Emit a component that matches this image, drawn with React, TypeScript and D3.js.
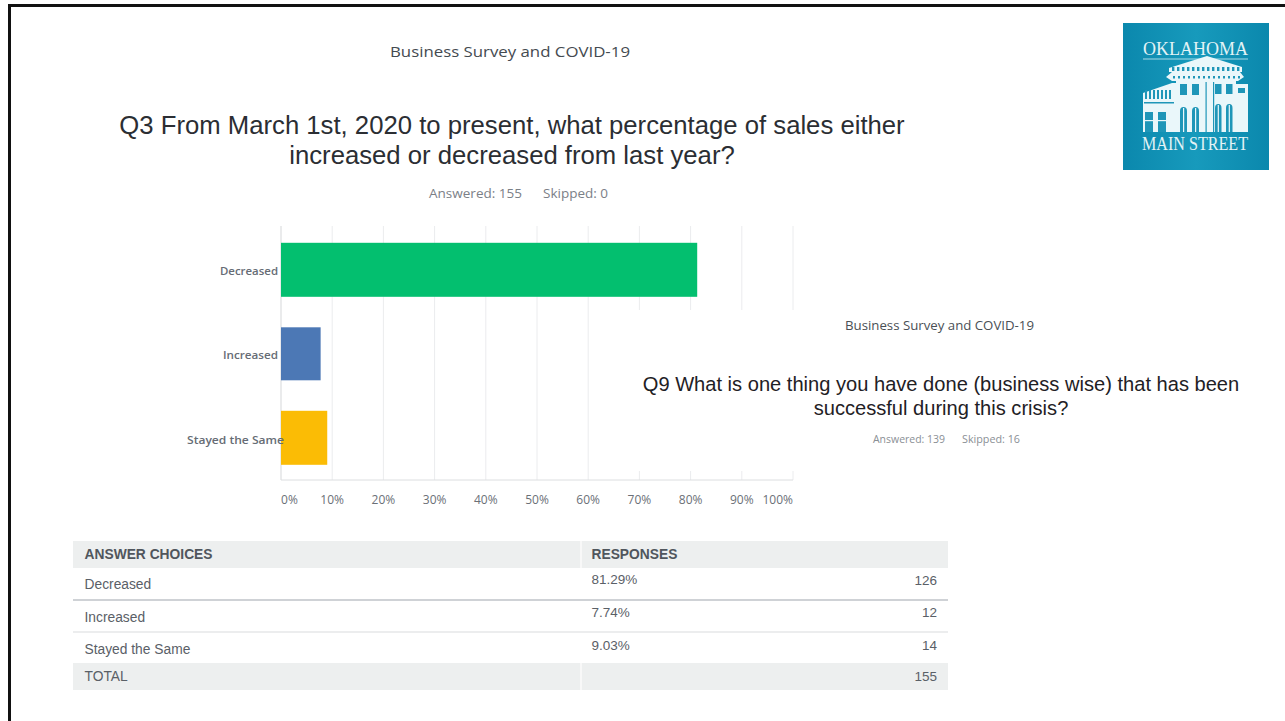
import React from "react";
import * as d3 from "d3";

const categories = ["Decreased", "Increased", "Stayed the Same"];
const percents = [81.29, 7.74, 9.03];
const counts = [126, 12, 14];
const barColors = ["#03bf6f", "#4c78b5", "#fbbc05"];
const xTicks = [0, 10, 20, 30, 40, 50, 60, 70, 80, 90, 100];
const totalResponses = 155;
const bandCentres = [269.8, 353.8, 437.8];
const barHeights = [54, 53, 54];
const labelBaselines = [274.5, 359, 444];
const labelEnds = [278, 278, 284];
const labelWidths = [58, 55, 97];
const rowTextY = [589, 622, 654];
const rowValueY = [584, 617, 650];

const sansUi = "'Open Sans', 'Noto Sans', sans-serif";
const sansTitle = "'Liberation Sans', Arial, sans-serif";
const serif = "'Liberation Serif', serif";

const x = d3.scaleLinear().domain([0, 100]).range([281, 793]);

// Stylised drawing of the Oklahoma Main Street building badge.
function Logo() {
  const teal = "#1f96b8";
  const leftBays = [1180, 1192];
  const rightBays = [1215, 1226];
  const wingBays = [1145, 1158];
  const cornice = d3.range(1172, 1242, 5);
  const wingColumns = d3.range(1145, 1172, 4);
  return (
    <g>
      <defs>
        <linearGradient id="badgeFill" x1="0" x2="1" y1="0" y2="0">
          <stop offset="0" stopColor="#0b88ad" />
          <stop offset="0.5" stopColor="#179abc" />
          <stop offset="1" stopColor="#0b88ad" />
        </linearGradient>
      </defs>
      <rect x={1123} y={23} width={146} height={147} fill="url(#badgeFill)" />
      <text x={1143} y={55} fontFamily={serif} fontSize={19} fill="#e3f3f6" textLength={105} lengthAdjust="spacingAndGlyphs">OKLAHOMA</text>
      <line x1={1143} x2={1248} y1={59} y2={59} stroke="#a9dbe7" strokeWidth={1} />
      <g fill="#eaf7fa">
        <polygon points="1169,68 1207,56 1242,67 1242,72 1169,72" />
        <polygon points="1166,77 1172,72 1240,72 1244,77 1238,81 1172,81" />
        <rect x={1176} y={81} width={60} height={51} />
        <rect x={1236} y={84} width={12} height={48} />
        <polygon points="1143,93 1172,83 1176,83 1176,132 1143,132" />
      </g>
      <g fill={teal}>
        {cornice.map((c) => (
          <rect key={c} x={c} y={67} width={2.4} height={4} />
        ))}
        {cornice.map((c) => (
          <rect key={c} x={c + 1} y={76} width={2} height={2.5} />
        ))}
        {wingColumns.map((c) => (
          <rect key={c} x={c} y={90} width={2} height={9} />
        ))}
        <rect x={1144} y={102} width={30} height={1.5} />
        {leftBays.map((b) => (
          <React.Fragment key={b}>
            <rect x={b} y={84} width={7} height={11} />
            <path d={`M${b} 132 V111 a3.5 4 0 0 1 7 0 V132 Z`} />
          </React.Fragment>
        ))}
        {rightBays.map((b) => (
          <React.Fragment key={b}>
            <rect x={b} y={84} width={6.5} height={10} />
            <path d={`M${b} 132 V108 a3.2 4 0 0 1 6.5 0 V132 Z`} />
          </React.Fragment>
        ))}
        {wingBays.map((b) => (
          <rect key={b} x={b} y={112} width={8} height={20} />
        ))}
        <rect x={1238} y={88} width={7} height={5} />
        <rect x={1205.5} y={82} width={1.2} height={50} />
        <rect x={1213} y={82} width={1.2} height={50} />
      </g>
      <g fill="#eaf7fa">
        {leftBays.map((b) => (
          <rect key={b} x={b + 3} y={108} width={1.2} height={24} />
        ))}
        {rightBays.map((b) => (
          <rect key={b} x={b + 2.7} y={105} width={1.2} height={27} />
        ))}
        {wingBays.map((b) => (
          <rect key={b} x={b} y={120} width={8} height={1.2} />
        ))}
      </g>
      <text x={1142} y={150} fontFamily={serif} fontSize={18.5} fill="#e3f3f6" textLength={106} lengthAdjust="spacingAndGlyphs">MAIN STREET</text>
    </g>
  );
}

export default function App() {
  const tickAnchor = (t: number) => (t === 0 ? "start" : t === 100 ? "end" : "middle");
  return (
    <svg width={1285} height={721} style={{ position: "absolute", left: 0, top: 0, background: "#fff" }}>
      <rect x={0} y={0} width={1285} height={721} fill="#ffffff" />
      {/* slide frame: only the top and left edges fall inside the view */}
      <rect x={9.5} y={5.5} width={1290} height={730} fill="none" stroke="#111" strokeWidth={3} />

      <text x={390} y={57} fontFamily={sansUi} fontSize={14.5} fill="#444a50" textLength={240} lengthAdjust="spacingAndGlyphs">Business Survey and COVID-19</text>
      <text x={512} y={134} textAnchor="middle" fontFamily={sansTitle} fontSize={25.7} fill="#2b2e33">Q3 From March 1st, 2020 to present, what percentage of sales either</text>
      <text x={512} y={164} textAnchor="middle" fontFamily={sansTitle} fontSize={25.7} fill="#2b2e33">increased or decreased from last year?</text>
      <text x={429} y={198} fontFamily={sansUi} fontSize={12.5} fill="#7b8087" textLength={93} lengthAdjust="spacingAndGlyphs">Answered: 155</text>
      <text x={543} y={198} fontFamily={sansUi} fontSize={12.5} fill="#7b8087" textLength={65} lengthAdjust="spacingAndGlyphs">Skipped: 0</text>

      {/* horizontal bar chart */}
      {xTicks.map((t) => (
        <line key={t} x1={x(t)} x2={x(t)} y1={226} y2={480} stroke={t === 0 ? "#d5d7d9" : "#ebecee"} strokeWidth={1} />
      ))}
      <line x1={x(0)} x2={x(100)} y1={480} y2={480} stroke="#dcdee0" strokeWidth={1} />
      {categories.map((c, i) => (
        <rect key={c} x={x(0)} y={bandCentres[i] - barHeights[i] / 2} width={x(percents[i]) - x(0)} height={barHeights[i]} fill={barColors[i]} />
      ))}
      {categories.map((c, i) => (
        <text key={c} x={labelEnds[i] - labelWidths[i]} y={labelBaselines[i]} fontFamily={sansUi} fontSize={11.5} fontWeight={600} fill="#666c75" textLength={labelWidths[i]} lengthAdjust="spacingAndGlyphs">{c}</text>
      ))}
      {xTicks.map((t) => (
        <text key={t} x={x(t)} y={504} textAnchor={tickAnchor(t)} fontFamily={sansUi} fontSize={12} fill="#6b7077">{t}%</text>
      ))}

      {/* second survey slide pasted over the chart */}
      <rect x={635} y={310} width={625} height={161} fill="#ffffff" />
      <text x={845} y={330} fontFamily={sansUi} fontSize={12} fill="#4a4f55" textLength={189} lengthAdjust="spacingAndGlyphs">Business Survey and COVID-19</text>
      <text x={941} y={391} textAnchor="middle" fontFamily={sansTitle} fontSize={20.1} fill="#1f2125">Q9 What is one thing you have done (business wise) that has been</text>
      <text x={941} y={415} textAnchor="middle" fontFamily={sansTitle} fontSize={20.1} fill="#1f2125">successful during this crisis?</text>
      <text x={873} y={443} fontFamily={sansUi} fontSize={10} fill="#8a8f95" textLength={72} lengthAdjust="spacingAndGlyphs">Answered: 139</text>
      <text x={962} y={443} fontFamily={sansUi} fontSize={10} fill="#8a8f95" textLength={58} lengthAdjust="spacingAndGlyphs">Skipped: 16</text>

      {/* responses table */}
      <rect x={73} y={541} width={875} height={27} fill="#edefef" />
      <rect x={73} y={663} width={875} height={27} fill="#edefef" />
      <rect x={580} y={541} width={2} height={27} fill="#f8f8f8" />
      <rect x={580} y={663} width={2} height={27} fill="#f8f8f8" />
      <line x1={73} x2={948} y1={600} y2={600} stroke="#cfd2d6" strokeWidth={2} />
      <line x1={73} x2={948} y1={632} y2={632} stroke="#e6e7e9" strokeWidth={1.5} />
      <text x={84.5} y={559} fontFamily={sansTitle} fontSize={13.8} fontWeight={700} fill="#50565d">ANSWER CHOICES</text>
      <text x={591.5} y={559} fontFamily={sansTitle} fontSize={13.8} fontWeight={700} fill="#50565d">RESPONSES</text>
      {categories.map((c, i) => (
        <React.Fragment key={c}>
          <text x={84.5} y={rowTextY[i]} fontFamily={sansTitle} fontSize={13.8} fill="#5a6067">{c}</text>
          <text x={591.5} y={rowValueY[i]} fontFamily={sansTitle} fontSize={13.5} fill="#5a6067">{percents[i].toFixed(2)}%</text>
          <text x={937} y={rowValueY[i] + (i === 0 ? 1 : 0)} textAnchor="end" fontFamily={sansTitle} fontSize={13.5} fill="#5a6067">{counts[i]}</text>
        </React.Fragment>
      ))}
      <text x={84.5} y={681} fontFamily={sansTitle} fontSize={13.8} fill="#5a6067">TOTAL</text>
      <text x={937} y={681} textAnchor="end" fontFamily={sansTitle} fontSize={13.5} fill="#5a6067">{totalResponses}</text>

      <Logo />
    </svg>
  );
}
